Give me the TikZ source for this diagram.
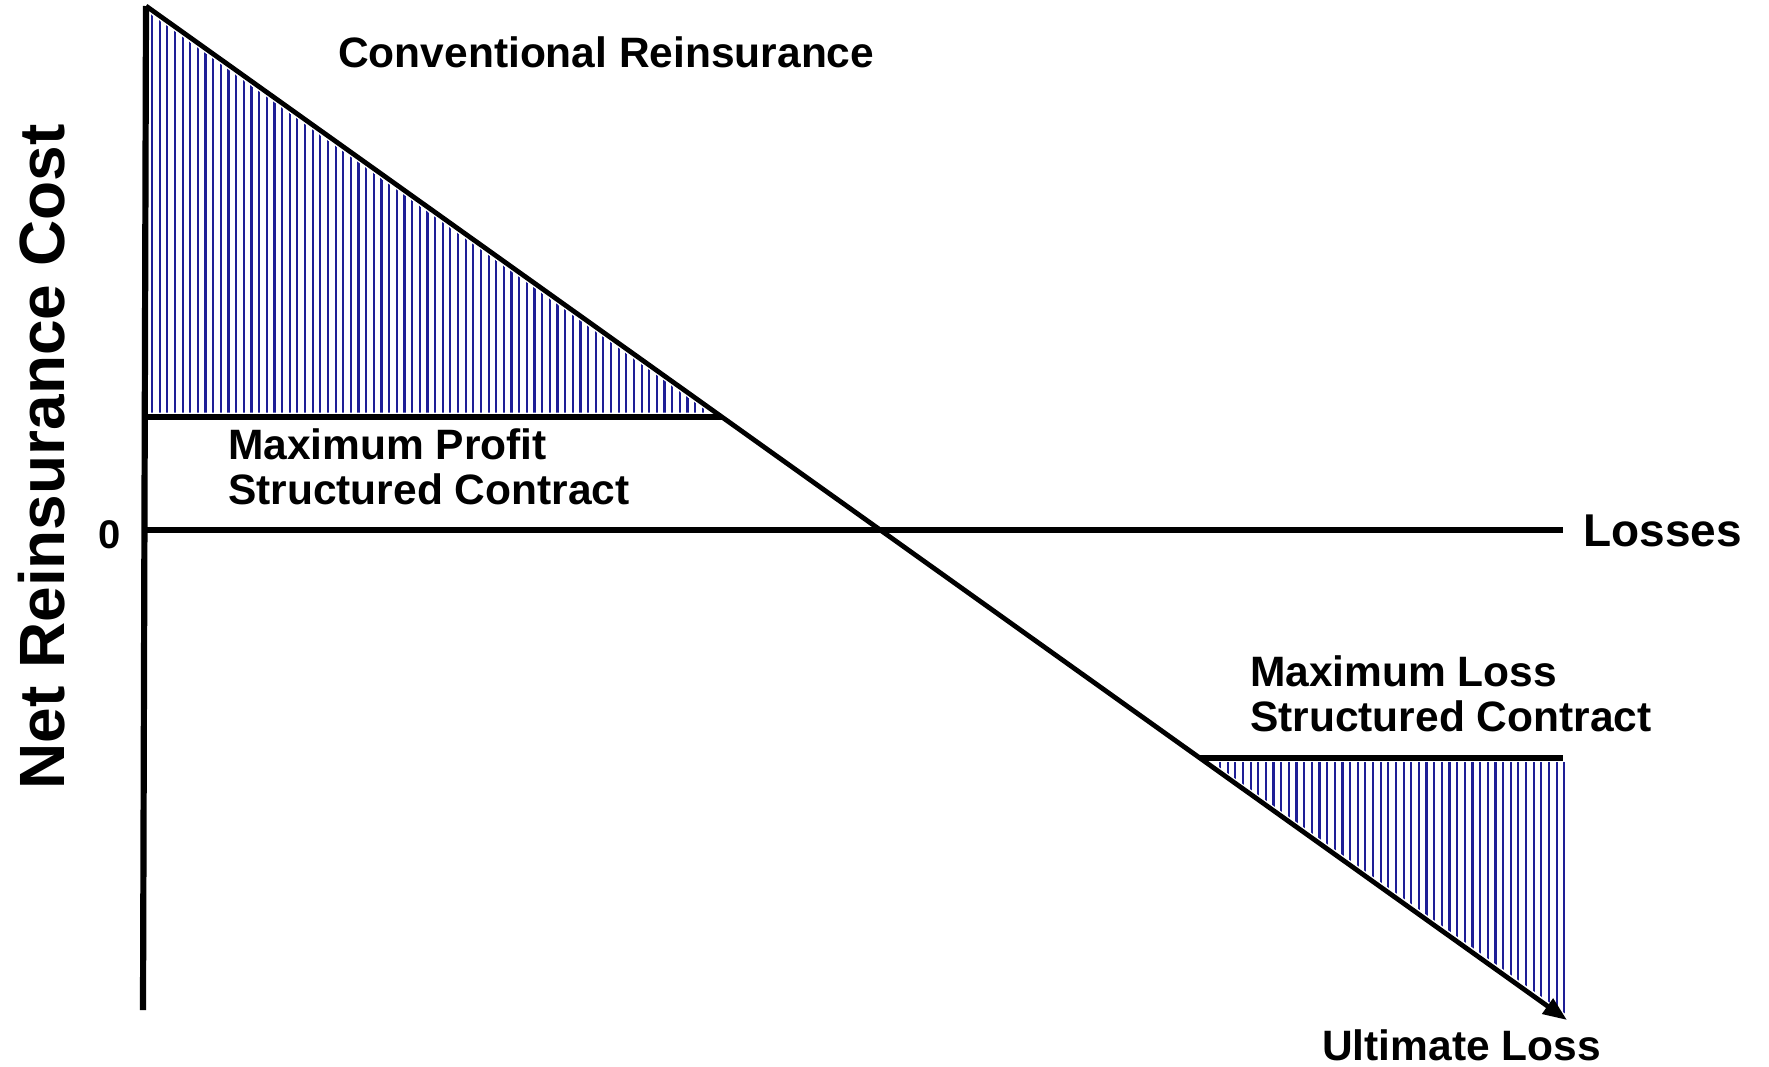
\documentclass[tikz,border=0pt]{standalone}
\usepackage{fontspec}
\setmainfont{Liberation Sans}
\usetikzlibrary{arrows.meta}
\definecolor{hatchblue}{RGB}{30,30,150}
\begin{document}
\begin{tikzpicture}[x=1pt,y=-1pt,
  axisline/.style={line width=6.2pt},
  diagline/.style={line width=4.8pt},
  capline/.style={line width=6.5pt},
  hatch/.style={hatchblue,line width=2.2pt},
  lbl/.style={inner sep=0pt,font=\fontsize{42.5}{45}\selectfont\bfseries,align=left,anchor=base west}]
\useasboundingbox (0,0) rectangle (1769,1066);
\fill[white] (0,0) rectangle (1769,1066);
% key points
\coordinate (top) at (146,6);
\coordinate (bot) at (143,1010);
\coordinate (tip) at (1567,1020);
\coordinate (zl) at (146,530);
\coordinate (zr) at (1563,530);
\coordinate (pl) at (146,417);
\coordinate (pr) at (722,417);
\coordinate (ll) at (1200,758);
\coordinate (lr) at (1563,758);
% hatching, profit region
\begin{scope}
  \clip (149,13) -- (709,412.5) -- (149,412.5) -- cycle;
  \foreach \x in {152,159.65,...,716} \draw[hatch] (\x,0) -- (\x,420);
\end{scope}
% hatching, loss region
\begin{scope}
  \clip (1212,762) -- (1570,762) -- (1570,1017) -- cycle;
  \foreach \x in {1220,1227.65,...,1570} \draw[hatch] (\x,750) -- (\x,1030);
\end{scope}
% lines
\draw[axisline] (bot) -- (top);
\draw[axisline] (zl) -- (zr);
\draw[capline] (pl) -- (pr);
\draw[capline] (ll) -- (lr);
\draw[diagline,-{Triangle[length=24pt,width=18pt]}] (top) -- (tip);
% labels
\node[lbl] (conv) at (338,67) {Conventional Reinsurance};
\node[lbl] (maxp) at (228,504) {Maximum Profit\\Structured Contract};
\node[lbl] (maxl) at (1250,731) {Maximum Loss\\Structured Contract};
\node[lbl] (ult) at (1322,1060) {Ultimate Loss};
\node[lbl,font=\fontsize{46}{50}\selectfont\bfseries] (losses) at (1583,546) {Losses};
\node[lbl,font=\fontsize{40}{44}\selectfont\bfseries] (zero) at (98,548) {0};
\node[inner sep=0pt,font=\fontsize{64}{70}\selectfont\bfseries,rotate=90,anchor=base] (ylab) at (64,457) {Net Reinsurance Cost};
\end{tikzpicture}
\end{document}
